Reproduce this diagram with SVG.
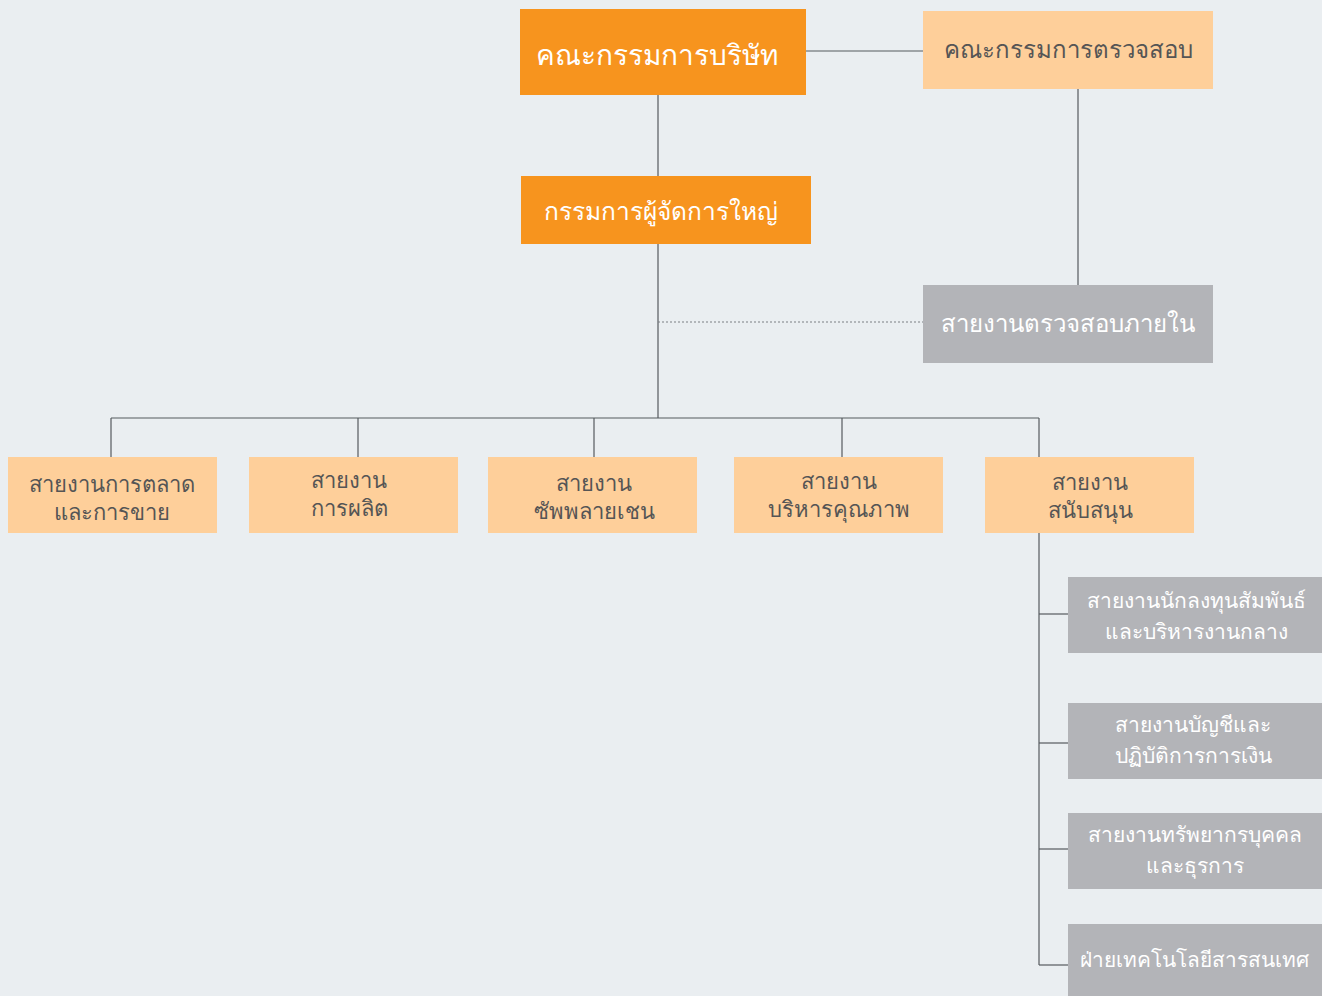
<svg xmlns="http://www.w3.org/2000/svg" width="1322" height="996" viewBox="0 0 1322 996">
<style>
text{font-family:"Noto Sans","DejaVu Sans",sans-serif;text-anchor:middle;dominant-baseline:central}
.or{fill:#F7941E}.pe{fill:#FECF9A}.gr{fill:#B3B4B8}
.w{fill:#FFFFFF}.d{fill:#555555}
.ln{stroke:#555A5F;stroke-width:1.2;fill:none}
.dot{stroke:#7A7E83;stroke-width:1.2;stroke-dasharray:2 2;fill:none}
</style>
<rect width="1322" height="996" fill="#EAEEF1"/>
<g id="connectors">
<line class="ln" x1="806" y1="51" x2="923" y2="51"/>
<line class="ln" x1="658" y1="95" x2="658" y2="176"/>
<line class="ln" x1="658" y1="244" x2="658" y2="418"/>
<line class="ln" x1="1078" y1="89" x2="1078" y2="285"/>
<line class="dot" x1="658" y1="322" x2="923" y2="322"/>
<line class="ln" x1="111" y1="418" x2="1039" y2="418"/>
<line class="ln" x1="111" y1="418" x2="111" y2="457"/>
<line class="ln" x1="358" y1="418" x2="358" y2="457"/>
<line class="ln" x1="594" y1="418" x2="594" y2="457"/>
<line class="ln" x1="842" y1="418" x2="842" y2="457"/>
<line class="ln" x1="1039" y1="418" x2="1039" y2="457"/>
<line class="ln" x1="1039" y1="533" x2="1039" y2="965"/>
<line class="ln" x1="1039" y1="614" x2="1068" y2="614"/>
<line class="ln" x1="1039" y1="743" x2="1068" y2="743"/>
<line class="ln" x1="1039" y1="849" x2="1068" y2="849"/>
<line class="ln" x1="1039" y1="965" x2="1068" y2="965"/>
</g>
<g id="board"><rect class="or" x="520" y="9" width="286" height="86"/><text class="w" x="657" y="54" font-size="28">คณะกรรมการบริษัท</text></g>
<g id="audit-committee"><rect class="pe" x="923" y="11" width="290" height="78"/><text class="d" x="1068" y="48" font-size="24">คณะกรรมการตรวจสอบ</text></g>
<g id="ceo"><rect class="or" x="521" y="176" width="290" height="68"/><text class="w" x="661" y="210" font-size="24.5">กรรมการผู้จัดการใหญ่</text></g>
<g id="internal-audit"><rect class="gr" x="923" y="285" width="290" height="78"/><text class="w" x="1068" y="322" font-size="24">สายงานตรวจสอบภายใน</text></g>
<g id="marketing"><rect class="pe" x="8" y="457" width="209" height="76"/><text class="d" x="112" y="483" font-size="22">สายงานการตลาด</text><text class="d" x="112" y="511" font-size="22">และการขาย</text></g>
<g id="production"><rect class="pe" x="249" y="457" width="209" height="76"/><text class="d" x="349" y="479" font-size="22">สายงาน</text><text class="d" x="349" y="507" font-size="22">การผลิต</text></g>
<g id="supply-chain"><rect class="pe" x="488" y="457" width="209" height="76"/><text class="d" x="594" y="482" font-size="22">สายงาน</text><text class="d" x="594" y="510" font-size="22">ซัพพลายเชน</text></g>
<g id="quality"><rect class="pe" x="734" y="457" width="209" height="76"/><text class="d" x="839" y="480" font-size="22">สายงาน</text><text class="d" x="839" y="508" font-size="22">บริหารคุณภาพ</text></g>
<g id="support"><rect class="pe" x="985" y="457" width="209" height="76"/><text class="d" x="1090" y="481" font-size="22">สายงาน</text><text class="d" x="1090" y="509" font-size="22">สนับสนุน</text></g>
<g id="investor-relations"><rect class="gr" x="1068" y="577" width="254" height="76"/><text class="w" x="1196" y="600" font-size="21">สายงานนักลงทุนสัมพันธ์</text><text class="w" x="1196" y="631" font-size="21">และบริหารงานกลาง</text></g>
<g id="accounting"><rect class="gr" x="1068" y="703" width="254" height="76"/><text class="w" x="1193" y="724" font-size="21">สายงานบัญชีและ</text><text class="w" x="1193" y="755" font-size="21">ปฏิบัติการการเงิน</text></g>
<g id="hr"><rect class="gr" x="1068" y="813" width="254" height="76"/><text class="w" x="1195" y="834" font-size="21">สายงานทรัพยากรบุคคล</text><text class="w" x="1195" y="865" font-size="21">และธุรการ</text></g>
<g id="it"><rect class="gr" x="1068" y="924" width="254" height="72"/><text class="w" x="1194" y="959" font-size="20.8">ฝ่ายเทคโนโลยีสารสนเทศ</text></g>
</svg>
